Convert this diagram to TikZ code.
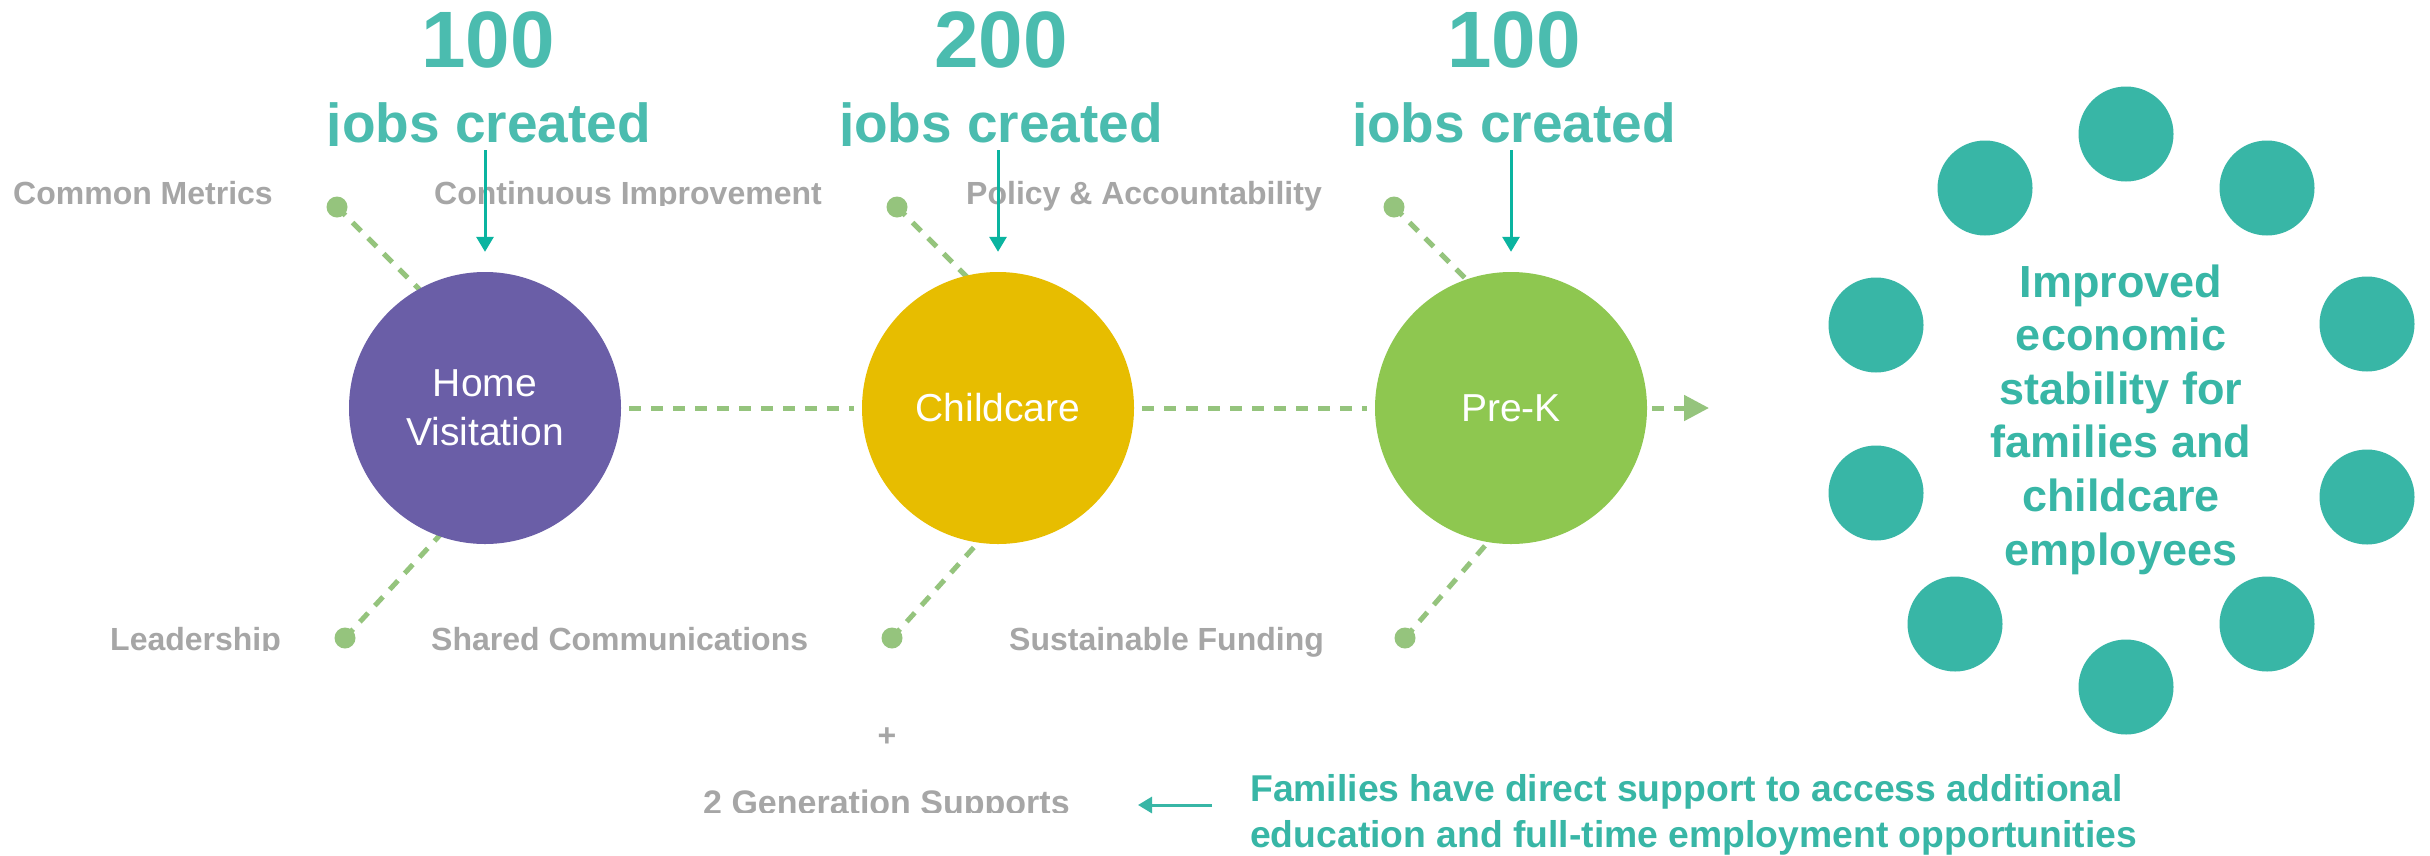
\documentclass[tikz,border=0pt]{standalone}
\usepackage{fontspec}
\setmainfont{Liberation Sans}
\usetikzlibrary{arrows.meta}
\definecolor{numteal}{HTML}{4BBCAF}
\definecolor{arrowteal}{HTML}{0BB4A0}
\definecolor{ringteal}{HTML}{38B6A6}
\definecolor{lblgray}{HTML}{A6A6A6}
\definecolor{dotgreen}{HTML}{95C47D}
\definecolor{hvpurple}{HTML}{6A5EA7}
\definecolor{ccyellow}{HTML}{E7BD00}
\definecolor{pkgreen}{HTML}{8EC750}
\newcommand{\myfs}[2]{\fontsize{#1}{#2}\selectfont}
\tikzset{
 lbl/.style={font=\myfs{32}{38}\bfseries, text=lblgray, inner sep=0pt, anchor=base west},
 bignum/.style={font=\myfs{80}{96}\bfseries, text=numteal, inner sep=0pt, anchor=base},
 jobs/.style={font=\myfs{55}{66}\bfseries, text=numteal, inner sep=0pt, anchor=base},
 stage/.style={circle, minimum size=272pt, inner sep=0pt, text=white, font=\myfs{39}{49}, align=center},
 gdot/.style={circle, fill=dotgreen, minimum size=21pt, inner sep=0pt},
 dashln/.style={draw=dotgreen, line width=5pt, dash pattern=on 12pt off 10pt},
 jobarrow/.style={draw=arrowteal, line width=3pt, -{Triangle[length=15pt,width=17pt]}},
 ringdot/.style={circle, fill=ringteal, minimum size=95pt, inner sep=0pt},
}
\begin{document}
\begin{tikzpicture}[x=1pt,y=-1pt]
\useasboundingbox (0,0) rectangle (2430,855);
\fill[white] (0,0) rectangle (2430,855);

% numbers
\node[bignum] (n1) at (488,67) {100};
\node[bignum] (n2) at (1001,67) {200};
\node[bignum] (n3) at (1514,67) {100};
\begin{scope}
\clip (0,0) rectangle (2430,145);
\node[jobs] (j1) at (489,142) {jobs created};
\node[jobs] (j2) at (1001,142) {jobs created};
\node[jobs] (j3) at (1514,142) {jobs created};
\end{scope}

% labels
\node[lbl] (l1) at (13,204) {Common Metrics};
\begin{scope}
\clip (400,150) rectangle (850,205);
\node[lbl] (l2) at (434,204) {Continuous Improvement};
\end{scope}
\node[lbl] (l3) at (966,204) {Policy \& Accountability};
\begin{scope}
\clip (80,600) rectangle (300,650);
\node[lbl] (l4) at (110,650) {Leadership};
\end{scope}
\node[lbl] (l5) at (431,650) {Shared Communications};
\node[lbl] (l6) at (1009,650) {Sustainable Funding};

% dots
\node[gdot] (d1t) at (337,207) {};
\node[gdot] (d2t) at (897,207) {};
\node[gdot] (d3t) at (1394,207) {};
\node[gdot] (d1b) at (345,638) {};
\node[gdot] (d2b) at (892,638) {};
\node[gdot] (d3b) at (1405,638) {};
\coordinate (e1t) at (437,307);
\coordinate (e2t) at (987,297);
\coordinate (e3t) at (1486,299);
\coordinate (e1b) at (452,522);
\coordinate (e2b) at (985,535);
\coordinate (e3b) at (1503,525);
\draw[dashln] (d1t.center) -- (e1t);
\draw[dashln] (d2t.center) -- (e2t);
\draw[dashln] (d3t.center) -- (e3t);
\draw[dashln] (d1b.center) -- (e1b);
\draw[dashln] (d2b.center) -- (e2b);
\draw[dashln] (d3b.center) -- (e3b);

% stage circles
\node[stage, fill=hvpurple] (c1) at (485,408) {Home\\Visitation};
\node[stage, fill=ccyellow] (c2) at (998,408) {Childcare};
\node[stage, fill=pkgreen] (c3) at (1511,408) {Pre-K};

\draw[dashln, shorten <=8pt, shorten >=8pt] (c1.east) -- (c2.west);
\draw[dashln, shorten <=8pt, shorten >=8pt] (c2.east) -- (c3.west);
\coordinate (outtip) at (1709,408);
\draw[dashln, shorten <=5pt, -{Triangle[length=25pt,width=25pt]}] (c3.east) -- (outtip);

% job arrows
\coordinate (a1) at (485,150);
\coordinate (a2) at (998,150);
\coordinate (a3) at (1511,150);
\draw[jobarrow, shorten >=20pt] (a1) -- (c1.north);
\draw[jobarrow, shorten >=20pt] (a2) -- (c2.north);
\draw[jobarrow, shorten >=20pt] (a3) -- (c3.north);

% ring of outcomes
\node[ringdot] (r1) at (2126,134) {};
\node[ringdot] (r2) at (2267,188) {};
\node[ringdot] (r3) at (2367,324) {};
\node[ringdot] (r4) at (2367,497) {};
\node[ringdot] (r5) at (2267,624) {};
\node[ringdot] (r6) at (2126,687) {};
\node[ringdot] (r7) at (1955,624) {};
\node[ringdot] (r8) at (1876,493) {};
\node[ringdot] (r9) at (1876,325) {};
\node[ringdot] (r10) at (1985,188) {};
\node[font=\myfs{45}{53.6}\bfseries, text=ringteal, align=center, inner sep=0pt] (out) at (2121,419.5)
 {Improved\\economic\\stability for\\families and\\childcare\\employees};

% bottom
\node[font=\myfs{32}{38}\bfseries, text=lblgray, inner sep=0pt] (plus) at (887,737) {+};
\begin{scope}
\clip (650,760) rectangle (1100,812);
\node[font=\myfs{34}{40}\bfseries, text=lblgray, inner sep=0pt, anchor=base west] (gen) at (703,814) {2 Generation Supports};
\end{scope}
\node[font=\myfs{37.3}{46}\bfseries, text=ringteal, align=left, inner sep=0pt, anchor=north west] (fam) at (1250,774.3)
 {Families have direct support to access additional\\education and full-time employment opportunities};
\coordinate (ga) at (1212,805);
\coordinate (gb) at (1138,805);
\draw[draw=ringteal, line width=3pt, -{Triangle[length=14pt,width=16pt]}] (ga) -- (gb);
\end{tikzpicture}
\end{document}
